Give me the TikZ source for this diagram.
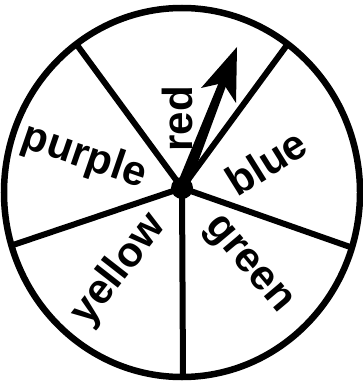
\documentclass[tikz,border=0pt]{standalone}
\usepackage{fontspec}
\setmainfont{Liberation Sans}
\begin{document}
\begin{tikzpicture}[x=1pt,y=-1pt,
  rim/.style={line width=6.5pt},
  spoke/.style={line width=6pt},
  lbl/.style={font=\bfseries\fontsize{42}{42}\selectfont, inner sep=0pt},
  hubstyle/.style={circle, fill=black, minimum size=22pt, inner sep=0pt}]
\useasboundingbox (0,0) rectangle (362,382);
\fill[white] (0,0) rectangle (362,382);
\coordinate (c) at (182,192.5);
\coordinate (eUL) at (77,45);
\coordinate (eUR) at (287,45);
\coordinate (eL) at (10,246);
\coordinate (eR) at (353,248);
\coordinate (eB) at (183,377);
\node[hubstyle] (hub) at (182,188) {};
\draw[spoke] (hub.center) -- (eUL);
\draw[spoke] (hub.center) -- (eUR);
\draw[spoke] (hub.center) -- (eL);
\draw[spoke] (hub.center) -- (eR);
\draw[spoke] (hub.center) -- (eB);
\draw[rim] (c) ellipse [x radius=178pt, y radius=184.5pt];
% pointer
\coordinate (tip) at (237,47);
\coordinate (lb) at (201,88);
\coordinate (rb) at (236,103);
\coordinate (notch) at (223,83);
\fill (176.4,185.8) -- (187.6,190.2) -- (226.7,84.2) -- (219.3,81.3) -- cycle;
\fill (tip) -- (lb) -- (notch) -- (rb) -- cycle;
% labels
\node[lbl, rotate=-19] (purple) at (84,157) {purple};
\node[lbl, rotate=90] (red) at (177,119) {red};
\node[lbl, rotate=32] (blue) at (266,162) {blue};
\node[lbl, rotate=-50] (green) at (247,266) {green};
\node[lbl, rotate=52] (yellow) at (119,270) {yellow};
\end{tikzpicture}
\end{document}
